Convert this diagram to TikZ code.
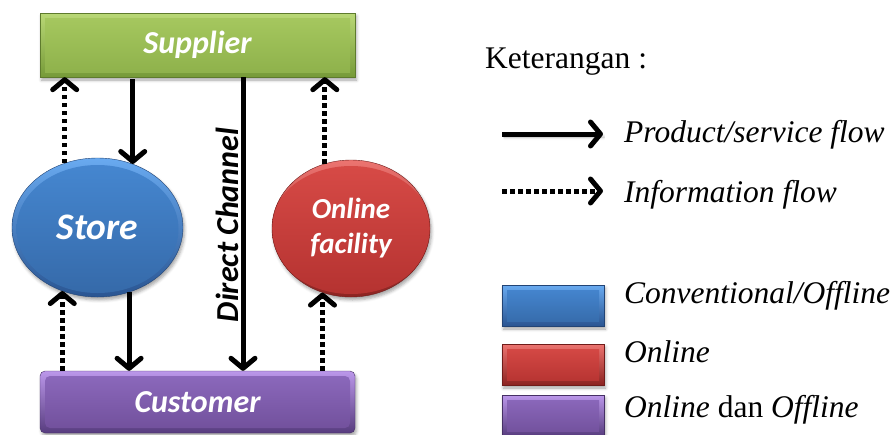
\documentclass[tikz,border=0pt]{standalone}
\usepackage{fontspec}
\setmainfont{Liberation Serif}
\newfontfamily\boxfont{Carlito}
\usetikzlibrary{arrows.meta,shapes.geometric,shadows.blur}

% colour sets: rim top / rim bottom / face top / face bottom
\definecolor{gRimT}{HTML}{B9D876}\definecolor{gRimB}{HTML}{769A38}
\definecolor{gFaceT}{HTML}{A7C960}\definecolor{gFaceB}{HTML}{8DB04A}
\definecolor{bRimT}{HTML}{69AAF0}\definecolor{bRimB}{HTML}{2A5592}
\definecolor{bFaceT}{HTML}{4688D2}\definecolor{bFaceB}{HTML}{3569A8}
\definecolor{rRimT}{HTML}{EC7470}\definecolor{rRimB}{HTML}{8C2321}
\definecolor{rFaceT}{HTML}{D84B47}\definecolor{rFaceB}{HTML}{B43230}
\definecolor{pRimT}{HTML}{BB97EA}\definecolor{pRimB}{HTML}{573C7E}
\definecolor{pFaceT}{HTML}{8D6ABE}\definecolor{pFaceB}{HTML}{704F9A}

\tikzset{
  softshadow/.style={blur shadow={shadow xshift=1.5pt, shadow yshift=-3pt,
      shadow opacity=35, shadow blur radius=3pt}},
  % bevelled rectangle in colour set #1
  bevelbox/.style={rectangle, inner sep=0pt, softshadow,
      top color=#1RimT, bottom color=#1RimB, draw=#1RimB!80!black, line width=0.4pt,
      path picture={\path[top color=#1FaceT, bottom color=#1FaceB]
        ([xshift=5pt,yshift=-5pt]path picture bounding box.north west) rectangle
        ([xshift=-5pt,yshift=5pt]path picture bounding box.south east);}},
  % bevelled ellipse in colour set #1
  bevelell/.style={ellipse, inner sep=0pt, softshadow,
      top color=#1RimT, bottom color=#1RimB, draw=#1RimB!80!black, line width=0.4pt,
      path picture={\path[top color=#1FaceT, bottom color=#1FaceB]
        ([yshift=-1.5pt]path picture bounding box.center) ellipse [x radius=81pt, y radius=64pt];}},
  boxtext/.style={text=white, font=\boxfont\bfseries\itshape\fontsize{32}{36}\selectfont},
  flow/.style={line width=5pt, line cap=butt,
      -{Straight Barb[length=10pt,width=24pt,round]}},
  info/.style={flow, dash pattern=on 4.5pt off 3.5pt},
  legtext/.style={anchor=base west, inner sep=0pt, font=\fontsize{31.5}{36}\selectfont},
}

\begin{document}
\begin{tikzpicture}[x=1pt,y=-1pt]
\useasboundingbox (0,0) rectangle (896,434);

% main blocks
\node[bevelbox=g, minimum width=315pt, minimum height=64pt, boxtext] (sup) at (197.5,45) {Supplier};
\node[bevelbox=p, minimum width=315pt, minimum height=62pt, rounded corners=5pt, boxtext] (cust) at (197.5,402) {Customer};
\node[bevelell=b, minimum width=171pt, minimum height=139pt, text=white,
      font=\boxfont\bfseries\itshape\fontsize{37.5}{40}\selectfont] (store) at (97.5,227.5) {Store};
\node[bevelell=r, minimum width=158pt, minimum height=137pt, text=white, align=center,
      font=\boxfont\bfseries\itshape\fontsize{29}{35}\selectfont] (online) at (351,228.5) {Online\\facility};

% supplier <-> store
\draw[info] (store.117) -- (store.117 |- sup.south);
\draw[flow] ([yshift=-2pt]sup.south -| store.61.5) -- (store.61.5);
% store <-> customer
\draw[info] (store.241.5 |- cust.north) -- (store.241.5);
\draw[flow] (store.296.8) -- (store.296.8 |- cust.north);
% online facility <-> supplier / customer
\draw[info] (online.112) -- (online.112 |- sup.south);
\draw[info] (online.246.4 |- cust.north) -- (online.246.4);

% direct channel
\coordinate (dc) at (243,0);
\draw[flow] (sup.south -| dc) -- (cust.north -| dc);
\node[rotate=90, font=\boxfont\bfseries\itshape\fontsize{32}{36}\selectfont] (dclbl) at (227,225) {Direct Channel};

% legend
\node[legtext] (ket) at (485,68) {Keterangan :};
\coordinate (la1) at (502,134);
\coordinate (lb1) at (603,134);
\draw[flow, softshadow] (la1) -- (lb1);
\node[legtext] (lt1) at (624,142) {\itshape Product/service flow};
\coordinate (la2) at (502,191);
\coordinate (lb2) at (603,191);
\draw[info] (la2) -- (lb2);
\node[legtext] (lt2) at (624,202) {\itshape Information flow};

\node[bevelbox=b, minimum width=102pt, minimum height=41pt] (lg1) at (553,305.5) {};
\node[legtext] (lt3) at (624,303) {\itshape Conventional/Offline};
\node[bevelbox=r, minimum width=102pt, minimum height=41pt] (lg2) at (553,364.5) {};
\node[legtext] (lt4) at (624,362) {\itshape Online};
\node[bevelbox=p, minimum width=102pt, minimum height=41pt] (lg3) at (553,415.5) {};
\node[legtext] (lt5) at (624,417) {\itshape Online\/ \upshape dan \itshape Offline};
\end{tikzpicture}
\end{document}
